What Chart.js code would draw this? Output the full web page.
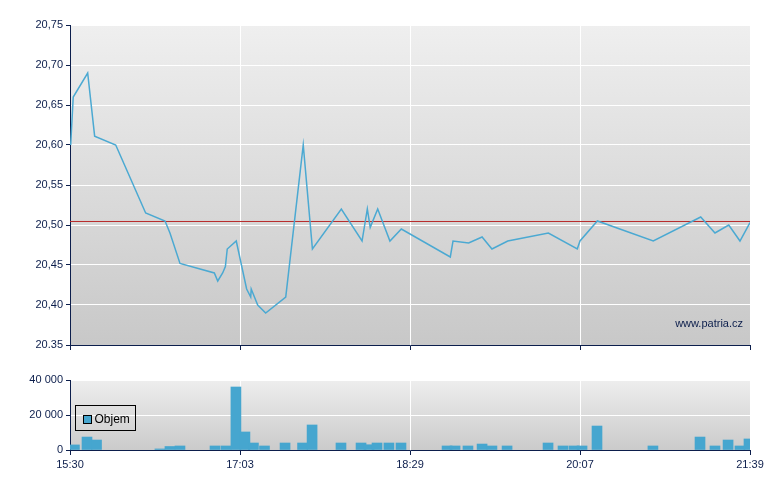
<!DOCTYPE html>
<html>
<head>
<meta charset="utf-8">
<script src="https://cdn.jsdelivr.net/npm/chart.js@4/dist/chart.umd.min.js"></script>
<style>
  body { margin: 0; background: #fff; }
  #wrap { position: relative; width: 780px; height: 490px; }
  canvas { position: absolute; left: 0; }
  #price { top: 0; }
  #volume { top: 360px; }
</style>
</head>
<body>
<div id="wrap">
  <canvas id="price" width="780" height="360"></canvas>
  <canvas id="volume" width="780" height="130"></canvas>
</div>
<script>
/* price + volume intraday chart */

// x axis: 0..4, one unit between two labelled ticks
const timeLabels = ['15:30', '17:03', '18:29', '20:07', '21:39'];
const priceTickLabels = ['20.35', '20,40', '20,45', '20,50', '20,55', '20,60', '20,65', '20,70', '20,75'];
const volumeTickLabels = ['0', '20 000', '40 000'];

const priceX = [0.004, 0.019, 0.104, 0.145, 0.269, 0.445, 0.559, 0.588, 0.647, 0.849, 0.869, 0.898, 0.914, 0.925,
  0.978, 1.039, 1.063, 1.066, 1.104, 1.151, 1.269, 1.372, 1.426, 1.596, 1.718, 1.749, 1.766, 1.810, 1.882, 1.949,
  2.237, 2.253, 2.345, 2.424, 2.482, 2.575, 2.814, 2.984, 3.000, 3.102, 3.431, 3.710, 3.794, 3.875, 3.941, 4.000];
const priceY = [20.60, 20.66, 20.69, 20.611, 20.60, 20.515, 20.505, 20.49, 20.452, 20.44, 20.43, 20.44, 20.448, 20.47,
  20.48, 20.42, 20.41, 20.42, 20.40, 20.39, 20.41, 20.60, 20.47, 20.52, 20.48, 20.52, 20.497, 20.52, 20.48, 20.495,
  20.46, 20.48, 20.4775, 20.485, 20.47, 20.48, 20.49, 20.47, 20.48, 20.505, 20.48, 20.51, 20.49, 20.50, 20.48, 20.503];
const prevClose = 20.5044;

const volX = [0.026, 0.100, 0.156, 0.529, 0.588, 0.647, 0.853, 0.918, 0.976, 1.029, 1.079, 1.144, 1.265, 1.368, 1.424,
  1.594, 1.712, 1.759, 1.806, 1.876, 1.947, 2.218, 2.265, 2.341, 2.424, 2.482, 2.571, 2.812, 2.900, 2.965, 3.012,
  3.100, 3.429, 3.706, 3.794, 3.871, 3.941, 3.994];
const volY = [2900, 7400, 5700, 600, 2000, 2300, 2300, 2300, 36000, 10300, 4000, 2300, 4000, 4000, 14300,
  4000, 4000, 3000, 4000, 4000, 4000, 2300, 2300, 2300, 3400, 2300, 2300, 4000, 2300, 2300, 2300,
  13700, 2300, 7400, 2300, 5700, 2300, 6300];

const NAVY = '#0c1e4c';
const LINE_BLUE = '#4ba9d2';
const BAR_BLUE = '#46a6cf';

Chart.defaults.font.family = '"Liberation Sans", Arial, sans-serif';
Chart.defaults.font.size = 11;
Chart.defaults.color = NAVY;

const gradientBg = {
  id: 'gradientBg',
  beforeDraw(chart, args, opts) {
    const { ctx, chartArea: a } = chart;
    const g = ctx.createLinearGradient(0, a.top, 0, a.bottom);
    g.addColorStop(0, opts.from);
    g.addColorStop(1, opts.to);
    ctx.save();
    ctx.fillStyle = g;
    ctx.fillRect(a.left, a.top, a.right - a.left, a.bottom - a.top);
    ctx.restore();
  }
};

const watermark = {
  id: 'watermark',
  afterDraw(chart) {
    const { ctx, chartArea: a } = chart;
    ctx.save();
    ctx.font = '11px "Liberation Sans", Arial, sans-serif';
    ctx.fillStyle = NAVY;
    ctx.textAlign = 'right';
    ctx.textBaseline = 'middle';
    ctx.fillText('www.patria.cz', a.right - 7, a.bottom - 21);
    ctx.restore();
  }
};

// small boxed legend inside the volume plot
const boxLegend = {
  id: 'boxLegend',
  afterDraw(chart) {
    const { ctx, chartArea: a } = chart;
    const ds = chart.data.datasets[0];
    const x = Math.round(a.left) + 5.5, y = Math.round(a.top) + 25.5;
    ctx.save();
    ctx.strokeStyle = '#000';
    ctx.lineWidth = 1;
    ctx.strokeRect(x, y, 60, 25);
    ctx.fillStyle = ds.backgroundColor;
    ctx.fillRect(x + 8, y + 10, 8, 8);
    ctx.strokeRect(x + 8, y + 10, 8, 8);
    ctx.font = '12px "Liberation Sans", Arial, sans-serif';
    ctx.fillStyle = '#000';
    ctx.textBaseline = 'middle';
    ctx.fillText(ds.label, x + 19, y + 14.5);
    ctx.restore();
  }
};

function xAxis(showLabels, height) {
  return {
    type: 'linear', min: 0, max: 4, offset: false,
    grid: { color: '#ffffff', tickColor: NAVY, tickLength: 5, offset: false },
    border: { color: NAVY },
    ticks: { stepSize: 1, maxRotation: 0, padding: 3, callback: (v, i) => showLabels ? timeLabels[i] : '' },
    afterFit: s => { s.height = height; }
  };
}

new Chart(document.getElementById('price'), {
  type: 'line',
  data: {
    datasets: [
      { data: priceX.map((x, i) => ({ x, y: priceY[i] })), borderColor: LINE_BLUE, borderWidth: 1.5,
        pointRadius: 0, tension: 0, fill: false },
      { data: [{ x: 0, y: prevClose }, { x: 4, y: prevClose }], borderColor: '#b82a2a', borderWidth: 1,
        pointRadius: 0, fill: false }
    ]
  },
  options: {
    responsive: false, animation: false,
    layout: { padding: { top: 25, right: 30, left: 0, bottom: 0 } },
    plugins: { legend: { display: false }, tooltip: { enabled: false }, gradientBg: { from: '#efefef', to: '#c8c8c8' } },
    scales: {
      x: xAxis(false, 15),
      y: {
        min: 20.35, max: 20.75,
        grid: { color: '#ffffff', tickColor: NAVY, tickLength: 4 },
        border: { color: NAVY },
        ticks: { stepSize: 0.05, padding: 3, callback: (v, i) => priceTickLabels[i] },
        afterFit: s => { s.width = 70; }
      }
    }
  },
  plugins: [gradientBg, watermark]
});

new Chart(document.getElementById('volume'), {
  type: 'bar',
  data: {
    datasets: [
      { label: 'Objem', data: volX.map((x, i) => ({ x, y: volY[i] })), backgroundColor: BAR_BLUE,
        borderWidth: 0, barThickness: 10, clip: 0 }
    ]
  },
  options: {
    responsive: false, animation: false,
    layout: { padding: { top: 20, right: 30, left: 0, bottom: 0 } },
    plugins: { legend: { display: false }, tooltip: { enabled: false }, gradientBg: { from: '#eeeeee', to: '#cbcbcb' } },
    scales: {
      x: xAxis(true, 40),
      y: {
        min: 0, max: 40000,
        grid: { color: '#ffffff', tickColor: NAVY, tickLength: 4 },
        border: { color: NAVY },
        ticks: { stepSize: 20000, padding: 3, callback: (v, i) => volumeTickLabels[i] },
        afterFit: s => { s.width = 70; }
      }
    }
  },
  plugins: [gradientBg, boxLegend]
});
</script>
</body>
</html>
